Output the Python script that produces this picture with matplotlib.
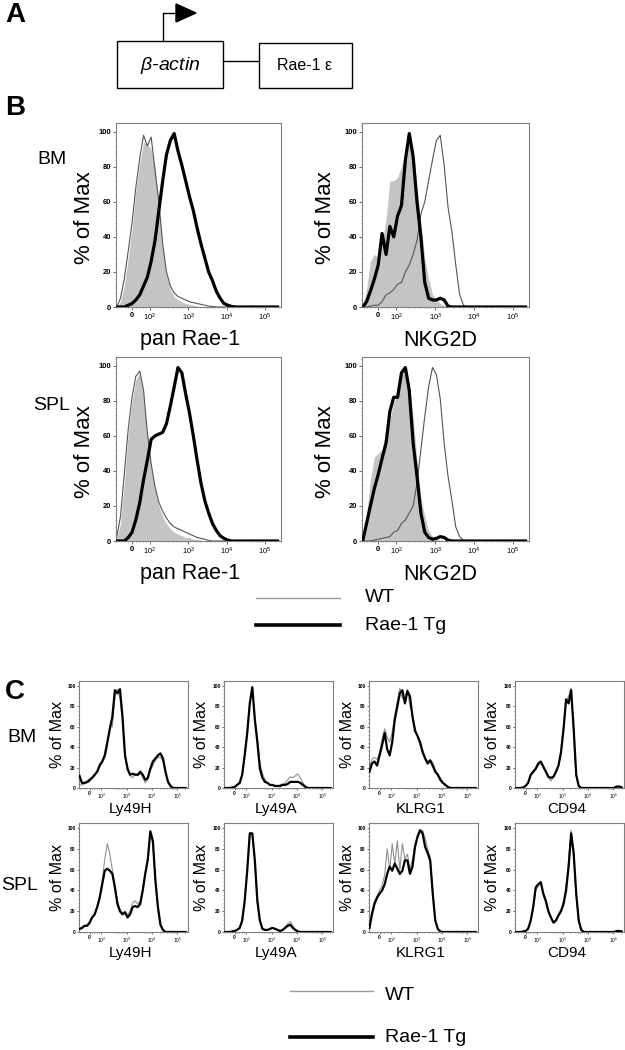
import numpy as np
import matplotlib
matplotlib.use('Agg')
import matplotlib.pyplot as plt
from matplotlib.patches import Rectangle, Polygon
from matplotlib.ticker import FixedLocator, AutoMinorLocator

plt.rcParams['font.family'] = ['Liberation Sans', 'DejaVu Sans']
plt.rcParams['mathtext.fontset'] = 'custom'
plt.rcParams['mathtext.rm'] = 'Liberation Sans'
plt.rcParams['mathtext.it'] = 'Liberation Sans:italic'
plt.rcParams['mathtext.bf'] = 'Liberation Sans:bold'

# fluorescence bin centres (biexponential-like display)
BINS = [-85, -64, -43, -21, 0, 21, 43, 64, 85,
        107, 135, 170, 214, 269, 339, 427, 537, 676, 851,
        1072, 1349, 1698, 2138, 2692, 3388, 4266, 5370, 6761, 8511,
        10715, 13490, 16982, 21380, 26915, 33884, 42658, 53703, 67608, 85114,
        107152, 134896, 169824, 213796]

# ---- panel B : % of max, gray = control, thin = WT, thick = Rae-1 Tg
B_BM_RAE_ISO = [0, 3, 12, 28, 45, 66, 82, 94, 93, 90, 80, 58, 35, 18, 10, 6, 4, 3, 2, 1.5, 1, 0.5, 0.3,
                0, 0, 0, 0, 0, 0, 0, 0, 0, 0, 0, 0, 0, 0, 0, 0, 0, 0, 0, 0]
B_BM_RAE_WT = [0, 5, 16, 32, 48, 68, 85, 98, 92, 97, 78, 60, 36, 20, 12, 8, 6, 5, 4, 3, 2.5, 2, 1.5, 1, 0.5, 0.3,
               0, 0, 0, 0, 0, 0, 0, 0, 0, 0, 0, 0, 0, 0, 0, 0, 0]
B_BM_RAE_TG = [0, 0, 0, 1, 2, 4, 7, 12, 17, 26, 38, 55, 72, 87, 95, 99, 89, 81, 72, 63, 55, 45, 36, 28, 20, 15,
               9, 5, 2, 1, 0.3, 0, 0, 0, 0, 0, 0, 0, 0, 0, 0, 0, 0]

B_BM_NKG_ISO = [1, 10, 26, 30, 28, 36, 50, 72, 72, 74, 80, 87, 97, 88, 68, 48, 28, 16, 7, 4, 2, 1, 0.5,
                0, 0, 0, 0, 0, 0, 0, 0, 0, 0, 0, 0, 0, 0, 0, 0, 0, 0, 0, 0]
B_BM_NKG_WT = [0, 0, 0.5, 1, 1, 3, 7, 8, 10, 13, 14, 20, 24, 30, 38, 53, 60, 72, 84, 95, 98, 81, 57, 43, 24, 7, 1,
               0, 0, 0, 0, 0, 0, 0, 0, 0, 0, 0, 0, 0, 0, 0, 0]
B_BM_NKG_TG = [0, 3, 9, 16, 24, 42, 30, 46, 40, 52, 58, 84, 99, 86, 60, 40, 14, 5, 4, 4, 5, 4, 0.5,
               0, 0, 0, 0, 0, 0, 0, 0, 0, 0, 0, 0, 0, 0, 0, 0, 0, 0, 0, 0]

B_SPL_RAE_ISO = [1, 10, 33, 61, 80, 92, 96, 82, 61, 42, 29, 20, 14, 10, 7, 5, 4, 3, 2, 2, 1, 1, 0.5,
                 0, 0, 0, 0, 0, 0, 0, 0, 0, 0, 0, 0, 0, 0, 0, 0, 0, 0, 0, 0]
B_SPL_RAE_WT = [2, 14, 38, 64, 82, 94, 97, 86, 62, 44, 31, 22, 17, 13, 10, 8, 7, 6, 5, 4, 3, 2, 1.5, 1, 0.3,
                0, 0, 0, 0, 0, 0, 0, 0, 0, 0, 0, 0, 0, 0, 0, 0, 0, 0]
B_SPL_RAE_TG = [0, 0, 0, 2, 5, 12, 22, 35, 46, 58, 60, 61, 62, 67, 77, 88, 99, 96, 84, 73, 60, 46, 33, 23, 16,
                10, 6, 3, 1.5, 0.5, 0, 0, 0, 0, 0, 0, 0, 0, 0, 0, 0, 0, 0]

B_SPL_NKG_ISO = [2, 15, 35, 48, 50, 52, 62, 69, 79, 84, 96, 98, 88, 71, 46, 25, 14, 6, 2.5, 1, 0.5,
                 0, 0, 0, 0, 0, 0, 0, 0, 0, 0, 0, 0, 0, 0, 0, 0, 0, 0, 0, 0, 0, 0]
B_SPL_NKG_WT = [0, 0, 0, 0.5, 1, 1.5, 2, 2.5, 5, 6, 10, 12, 16, 20, 33, 52, 71, 88, 99, 95, 81, 56, 37, 23, 8,
                2.5, 0.5, 0, 0, 0, 0, 0, 0, 0, 0, 0, 0, 0, 0, 0, 0, 0, 0]
B_SPL_NKG_TG = [0, 10, 20, 30, 38, 47, 56, 74, 82, 82, 96, 99, 86, 56, 37, 16, 5, 2, 1, 1.5, 2.5, 2, 0.5,
                0, 0, 0, 0, 0, 0, 0, 0, 0, 0, 0, 0, 0, 0, 0, 0, 0, 0, 0, 0]

# ---- panel C
C_MARKERS = ['Ly49H', 'Ly49A', 'KLRG1', 'CD94']

C_BM_LY49H_WT = [3, 3, 4, 5, 6, 9, 12, 17, 24, 25, 30, 40, 62, 60, 90, 97, 88, 66, 30, 17, 12, 10, 14, 12, 14,
                 10, 5, 8, 17, 22, 27, 30, 30, 26, 14, 5, 1, 0, 0, 0, 0, 0, 0]
C_BM_LY49H_TG = [12, 5, 5, 6, 8, 10, 13, 16, 22, 26, 32, 45, 58, 70, 96, 93, 97, 70, 32, 19, 13, 14, 13, 13, 16,
                 13, 8, 10, 19, 26, 29, 32, 34, 29, 16, 6, 2, 0, 0, 0, 0, 0, 0]
C_BM_LY49A_WT = [0, 0, 0, 0.5, 1, 3, 5, 14, 33, 56, 85, 97, 70, 50, 25, 14, 8, 5, 3, 3, 2, 2, 3, 4, 5, 8, 11,
                 10, 12, 14, 10, 5, 2, 0, 0, 0, 0, 0, 0, 0, 0, 0, 0]
C_BM_LY49A_TG = [0, 0, 0, 0.5, 1, 3, 5, 13, 32, 54, 83, 99, 67, 45, 19, 10, 6, 5, 3, 3, 2, 2, 2, 3, 3, 4, 6,
                 6, 6, 6, 5, 3, 1, 0, 0, 0, 0, 0, 0, 0, 0, 0, 0]
C_BM_KLRG1_WT = [20, 28, 30, 28, 35, 48, 58, 50, 45, 55, 72, 85, 98, 88, 90, 97, 80, 72, 60, 50, 42, 38, 30, 26,
                 28, 25, 18, 14, 10, 6, 3, 1, 0, 0, 0, 0, 0, 0, 0, 0, 0, 0, 0]
C_BM_KLRG1_TG = [16, 24, 26, 22, 32, 42, 54, 38, 32, 45, 67, 80, 93, 96, 83, 95, 90, 70, 56, 51, 45, 35, 29, 24,
                 27, 22, 16, 13, 8, 5, 3, 1, 0, 0, 0, 0, 0, 0, 0, 0, 0, 0, 0]
C_BM_CD94_WT = [0, 0, 0, 0.5, 2, 5, 12, 15, 18, 22, 24, 20, 16, 10, 7, 10, 15, 22, 38, 62, 85, 90, 98, 55, 12, 2,
                0, 0, 0, 0, 0, 0, 0, 0, 0, 0, 0, 0, 0, 0, 1, 1, 0.5]
C_BM_CD94_TG = [0, 0, 0, 0.5, 2, 5, 13, 16, 19, 24, 26, 21, 16, 11, 10, 11, 16, 22, 35, 58, 87, 83, 96, 58, 13, 2,
                0, 0, 0, 0, 0, 0, 0, 0, 0, 0, 0, 0, 0, 0, 1.5, 1.5, 0.5]

C_SPL_LY49H_WT = [2, 3, 5, 6, 8, 13, 18, 25, 35, 50, 70, 85, 75, 60, 45, 30, 22, 18, 20, 16, 20, 28, 30, 27, 30,
                  42, 58, 68, 95, 85, 48, 22, 6, 1, 0, 0, 0, 0, 0, 0, 0, 0, 0]
C_SPL_LY49H_TG = [3, 4, 6, 6, 9, 14, 17, 24, 33, 46, 59, 61, 59, 56, 43, 27, 20, 17, 19, 14, 17, 24, 25, 24, 27,
                  40, 56, 70, 97, 88, 50, 24, 7, 2, 0, 0, 0, 0, 0, 0, 0, 0, 0]
C_SPL_LY49A_WT = [0, 0, 0, 0.5, 1, 2, 4, 12, 32, 62, 96, 93, 66, 28, 10, 3, 2, 2, 3, 4, 3, 2, 1, 2, 5, 8, 10,
                  6, 2, 0.5, 0, 0, 0, 0, 0, 0, 0, 0, 0, 0, 0, 0, 0]
C_SPL_LY49A_TG = [0, 0, 0, 0.5, 1, 2, 4, 11, 30, 59, 95, 95, 69, 30, 11, 3, 2, 2, 3, 4, 3, 2, 1, 2, 4, 6, 7,
                  4, 2, 0.5, 0, 0, 0, 0, 0, 0, 0, 0, 0, 0, 0, 0, 0]
C_SPL_KLRG1_WT = [6, 20, 30, 35, 40, 45, 55, 80, 60, 85, 65, 88, 60, 85, 70, 75, 60, 70, 85, 90, 97, 98, 90, 80,
                  72, 40, 12, 3, 0.5, 0, 0, 0, 0, 0, 0, 0, 0, 0, 0, 0, 0, 0, 0]
C_SPL_KLRG1_TG = [4, 17, 27, 33, 37, 40, 46, 56, 63, 59, 66, 61, 56, 59, 69, 69, 56, 63, 82, 92, 98, 95, 82, 76,
                  69, 37, 11, 3, 0.5, 0, 0, 0, 0, 0, 0, 0, 0, 0, 0, 0, 0, 0, 0]
C_SPL_CD94_WT = [0, 0, 0, 0.5, 1, 3, 10, 22, 40, 44, 47, 35, 28, 20, 15, 10, 12, 17, 22, 30, 45, 68, 98, 72, 35,
                 10, 1.5, 0, 0, 0, 0, 0, 0, 0, 0, 0, 0, 0, 0, 0, 1, 1, 0.5]
C_SPL_CD94_TG = [0, 0, 0, 0.5, 1, 3, 11, 24, 43, 46, 48, 37, 30, 20, 14, 9, 11, 16, 20, 27, 40, 63, 95, 76, 37,
                 11, 2, 0, 0, 0, 0, 0, 0, 0, 0, 0, 0, 0, 0, 0, 1, 1, 0.5]

XTICKS = [0, 100, 1000, 10000, 100000]
XTICKLABELS = ['0', '$10^2$', '$10^3$', '$10^4$', '$10^5$']

W, H = 625, 1050
fig = plt.figure(figsize=(6.25, 10.5), dpi=100)

# overlay in pixel coords for schematic, labels and legends
ov = fig.add_axes([0, 0, 1, 1])
ov.set_xlim(0, W)
ov.set_ylim(H, 0)
ov.axis('off')


def ftext(x, y, s, **kw):
    fig.text(x / W, 1 - y / H, s, **kw)


def px_axes(l, t, r, b):
    return fig.add_axes([l / W, 1 - b / H, (r - l) / W, (b - t) / H])


def facs(box, wt, tg, iso=None, big=True):
    ax = px_axes(*box)
    if iso is not None:
        ax.fill_between(BINS, iso, color='#c4c4c4', lw=0, zorder=1)
    if big:
        ax.plot(BINS, wt, color='#555555', lw=0.8, zorder=2)
        ax.plot(BINS, tg, color='black', lw=2.3, zorder=3)
    else:
        ax.plot(BINS, wt, color='#909090', lw=0.8, zorder=2)
        ax.plot(BINS, tg, color='black', lw=1.6, zorder=3)
    ax.set_xscale('symlog', linthresh=100, linscale=0.423)
    ax.set_xlim(-89, 262144)
    ax.set_ylim(0, 105)
    ax.set_xticks(XTICKS)
    ax.set_xticklabels(XTICKLABELS)
    minors = [-80, -60, -40, -20, 20, 40, 60, 80]
    for d in [100, 1000, 10000, 100000]:
        minors += [k * d for k in range(2, 10) if k * d < 262144]
    ax.xaxis.set_minor_locator(FixedLocator(minors))
    ax.set_yticks([0, 20, 40, 60, 80, 100])
    ax.yaxis.set_minor_locator(AutoMinorLocator(5))
    fs = 5.5 if big else 3.5
    ax.tick_params(which='major', direction='out', length=2 if big else 1.5, width=0.6,
                   labelsize=fs, pad=1.5 if big else 1, color='#555555')
    ax.tick_params(which='minor', direction='out', length=1 if big else 0.8, width=0.4, color='#555555')
    for lab in ax.get_yticklabels() + ax.get_xticklabels():
        lab.set_fontweight('bold')
    for sp in ax.spines.values():
        sp.set_color('#808080')
        sp.set_linewidth(0.8)
    return ax


# ---------------- panel A ----------------
ftext(15, 15, 'A', fontsize=20, fontweight='bold', ha='center', va='center')
ov.add_patch(Rectangle((117, 41), 106, 47, fill=False, lw=1.0, ec='black'))
ov.add_patch(Rectangle((259, 43), 93, 45, fill=False, lw=1.0, ec='black'))
ov.plot([223, 259], [61, 61], color='black', lw=1.0)
ov.plot([163, 163, 177], [41, 12.5, 12.5], color='black', lw=1.0)
ov.add_patch(Polygon([(176, 4), (196, 13), (176, 22)], closed=True, color='black'))
ftext(170, 65, r'$\beta$-actin', fontsize=14, style='italic', ha='center', va='center')
ftext(305, 66, 'Rae-1 \u03b5', fontsize=11.5, ha='center', va='center')

# ---------------- panel B ----------------
ftext(15, 108, 'B', fontsize=20, fontweight='bold', ha='center', va='center')
facs((116, 123, 281, 307), B_BM_RAE_WT, B_BM_RAE_TG, B_BM_RAE_ISO)
facs((362, 123, 529, 307), B_BM_NKG_WT, B_BM_NKG_TG, B_BM_NKG_ISO)
facs((116, 357, 281, 541), B_SPL_RAE_WT, B_SPL_RAE_TG, B_SPL_RAE_ISO)
facs((362, 357, 529, 541), B_SPL_NKG_WT, B_SPL_NKG_TG, B_SPL_NKG_ISO)

for yc, name in [(160, 'BM'), (405, 'SPL')]:
    ftext(52, yc, name, fontsize=14, ha='center', va='center')
for yc in [218, 452]:
    ftext(84, yc, '% of Max', fontsize=16, rotation=90, ha='center', va='center')
    ftext(326, yc, '% of Max', fontsize=16, rotation=90, ha='center', va='center')
for yc in [340, 574]:
    ftext(190, yc, 'pan Rae-1', fontsize=15.5, ha='center', va='center')
    ftext(440, yc, 'NKG2D', fontsize=15.5, ha='center', va='center')

ov.plot([256, 340], [598, 598], color='#9a9a9a', lw=1.0)
ov.plot([256, 340], [625, 625], color='black', lw=2.6)
ftext(365, 598, 'WT', fontsize=14, ha='left', va='center')
ftext(365, 626, 'Rae-1 Tg', fontsize=14, ha='left', va='center')

# ---------------- panel C ----------------
ftext(15, 692, 'C', fontsize=20, fontweight='bold', ha='center', va='center')
c_left = [79, 224, 369, 515]
c_rows = [(681, 788), (823, 932)]
bm_sets = [(C_BM_LY49H_WT, C_BM_LY49H_TG), (C_BM_LY49A_WT, C_BM_LY49A_TG),
           (C_BM_KLRG1_WT, C_BM_KLRG1_TG), (C_BM_CD94_WT, C_BM_CD94_TG)]
spl_sets = [(C_SPL_LY49H_WT, C_SPL_LY49H_TG), (C_SPL_LY49A_WT, C_SPL_LY49A_TG),
            (C_SPL_KLRG1_WT, C_SPL_KLRG1_TG), (C_SPL_CD94_WT, C_SPL_CD94_TG)]

for (top, bot), sets in zip(c_rows, [bm_sets, spl_sets]):
    for i, (wt, tg) in enumerate(sets):
        l = c_left[i]
        facs((l, top, l + 109, bot), wt, tg, big=False)
        ftext(l - 22, (top + bot) / 2, '% of Max', fontsize=11.5, rotation=90, ha='center', va='center')
        ftext(l + 52, bot + 21, C_MARKERS[i], fontsize=11, ha='center', va='center')

ftext(22, 738, 'BM', fontsize=14, ha='center', va='center')
ftext(20, 886, 'SPL', fontsize=14, ha='center', va='center')

ov.plot([290, 373], [991, 991], color='#9a9a9a', lw=1.0)
ov.plot([290, 373], [1037, 1037], color='black', lw=2.6)
ftext(385, 995, 'WT', fontsize=14, ha='left', va='center')
ftext(385, 1038, 'Rae-1 Tg', fontsize=14, ha='left', va='center')

fig.savefig('out.png', dpi=100)
